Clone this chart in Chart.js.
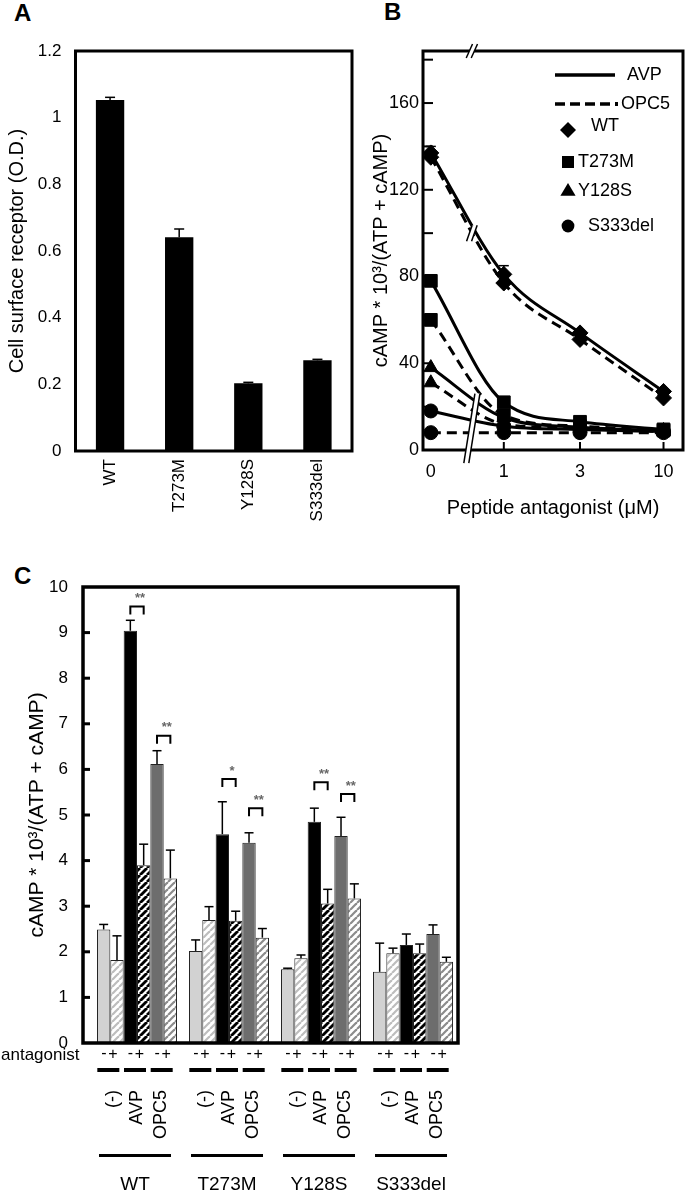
<!DOCTYPE html>
<html><head><meta charset="utf-8">
<script src="https://cdn.jsdelivr.net/npm/chart.js@4.4.0/dist/chart.umd.min.js"></script>
<style>
html,body{margin:0;padding:0;background:#fff;width:693px;height:1194px;overflow:hidden;position:relative;}
canvas{position:absolute;}
.lab{position:absolute;font:bold 24px "Liberation Sans",Arial,sans-serif;line-height:24px;color:#000;}
</style></head><body>
<div class="lab" style="left:14px;top:1px">A</div>
<div class="lab" style="left:384px;top:0px">B</div>
<div class="lab" style="left:14px;top:564px">C</div>
<canvas id="cA" width="360" height="540" style="left:0;top:0"></canvas>
<canvas id="cB" width="343" height="540" style="left:350px;top:0"></canvas>
<canvas id="cC" width="470" height="634" style="left:0;top:560px"></canvas>
<script>
// ================= DATA =================
// Panel A
const A_CATS = ['WT', 'T273M', 'Y128S', 'S333del'];
const A_VALUES = [1.053, 0.641, 0.203, 0.272];
const A_ERRS = [0.008, 0.025, 0.003, 0.003];
const A_TICKS = [0, 0.2, 0.4, 0.6, 0.8, 1, 1.2];

// Panel B
const B_CONC = [0, 1, 3, 10];
const B_XTICK_LABELS = ['0', '1', '3', '10'];
const B_YTICKS = [0, 40, 80, 120, 160];
const B_MUTANTS = ['WT', 'T273M', 'Y128S', 'S333del'];
const B_TREAT = ['AVP', 'OPC5'];
const B_WT_AVP = [137, 81, 54, 27];
const B_WT_OPC5 = [135, 77, 51, 24];
const B_T273M_AVP = [78, 22, 13, 9.5];
const B_T273M_OPC5 = [60, 16, 11, 9];
const B_Y128S_AVP = [38, 15, 10.5, 9];
const B_Y128S_OPC5 = [31, 12, 10, 8.5];
const B_S333DEL_AVP = [18, 11, 9.5, 8.5];
const B_S333DEL_OPC5 = [8, 8, 8, 8];
const B_WT_AVP_ERR = [3, 4, 1, 1];
const B_WT_OPC5_ERR = [2, 2, 1, 1];

// Panel C
const C_GROUPS = ['WT', 'T273M', 'Y128S', 'S333del'];
const C_TREAT_LABELS = ['(-)', 'AVP', 'OPC5'];
const C_NONE_MINUS = [2.49, 2.02, 1.62, 1.56];
const C_NONE_MINUS_ERR = [0.11, 0.24, 0.02, 0.63];
const C_NONE_PLUS = [1.82, 2.70, 1.86, 1.97];
const C_NONE_PLUS_ERR = [0.53, 0.29, 0.07, 0.11];
const C_AVP_MINUS = [9.04, 4.58, 4.85, 2.15];
const C_AVP_MINUS_ERR = [0.23, 0.71, 0.30, 0.24];
const C_AVP_PLUS = [3.90, 2.68, 3.06, 1.97];
const C_AVP_PLUS_ERR = [0.46, 0.21, 0.31, 0.20];
const C_OPC5_MINUS = [6.12, 4.39, 4.54, 2.39];
const C_OPC5_MINUS_ERR = [0.29, 0.22, 0.41, 0.20];
const C_OPC5_PLUS = [3.61, 2.31, 3.17, 1.78];
const C_OPC5_PLUS_ERR = [0.62, 0.20, 0.32, 0.10];
const C_YTICKS = [0, 1, 2, 3, 4, 5, 6, 7, 8, 9, 10];
const C_SIG_GROUP = [0, 0, 1, 1, 2, 2];
const C_SIG_PAIR = [1, 2, 1, 2, 1, 2];
const C_SIG_LEVEL = [9.57, 6.74, 5.79, 5.15, 5.72, 5.46];
const C_SIG_TEXT = ['**', '**', '*', '**', '**', '**'];

// ================= STYLE / LAYOUT =================
const FONT = '"Liberation Sans", Arial, Helvetica, sans-serif';
Chart.defaults.font.family = FONT;
Chart.defaults.color = '#000';
const B_ZERO_POS = -0.457;   // where "0" sits on the broken log axis
const B_BREAK_POS = -0.2;    // axis break location
const B_BREAK_WT_LEVEL = 100;
const B_BREAK_LOW = [-6, 26];
const bx = c => c === 0 ? B_ZERO_POS : Math.log10(c);

function line(ctx, x1, y1, x2, y2) { ctx.beginPath(); ctx.moveTo(x1, y1); ctx.lineTo(x2, y2); ctx.stroke(); }
function drawBox(chart, lw) {
  const a = chart.chartArea, ctx = chart.ctx;
  ctx.save(); ctx.strokeStyle = '#000'; ctx.lineWidth = lw;
  ctx.strokeRect(a.left, a.top, a.right - a.left, a.bottom - a.top);
  ctx.restore();
}
function drawErr(chart, cap, lw) {
  const ctx = chart.ctx, ys = chart.scales.y;
  chart.data.datasets.forEach((ds, di) => {
    if (!ds.errs) return;
    const meta = chart.getDatasetMeta(di);
    meta.data.forEach((el, i) => {
      const e = ds.errs[i]; if (!e) return;
      const d = ds.data[i]; const v = (typeof d === 'object') ? d.y : d;
      const y0 = ys.getPixelForValue(v), y1 = ys.getPixelForValue(v + e);
      ctx.save(); ctx.strokeStyle = '#000'; ctx.lineWidth = lw;
      line(ctx, el.x, y0, el.x, y1);
      line(ctx, el.x - cap, y1, el.x + cap, y1);
      ctx.restore();
    });
  });
}
function marker(ctx, style, x, y, r) {
  ctx.beginPath();
  if (style === 'rectRot') { ctx.moveTo(x, y - r); ctx.lineTo(x + r, y); ctx.lineTo(x, y + r); ctx.lineTo(x - r, y); ctx.closePath(); }
  else if (style === 'rect') { ctx.rect(x - r * 0.75, y - r * 0.75, r * 1.5, r * 1.5); }
  else if (style === 'triangle') { ctx.moveTo(x, y - r); ctx.lineTo(x + r * 0.95, y + r * 0.6); ctx.lineTo(x - r * 0.95, y + r * 0.6); ctx.closePath(); }
  else { ctx.arc(x, y, r * 0.8, 0, Math.PI * 2); }
  ctx.fill();
}
function stripes(fg, bg, size, lw) {
  const c = document.createElement('canvas'); c.width = size; c.height = size;
  const x = c.getContext('2d');
  x.fillStyle = bg; x.fillRect(0, 0, size, size);
  x.strokeStyle = fg; x.lineWidth = lw;
  for (const k of [-size, 0, size]) { x.beginPath(); x.moveTo(k, size); x.lineTo(k + size, 0); x.stroke(); }
  return x.createPattern(c, 'repeat');
}

// ================= PANEL A =================
new Chart(document.getElementById('cA'), {
  type: 'bar',
  data: { labels: A_CATS, datasets: [{ data: A_VALUES, errs: A_ERRS, backgroundColor: '#000', borderWidth: 0, barPercentage: 0.41, categoryPercentage: 1 }] },
  options: {
    responsive: false, animation: false,
    layout: { padding: { top: 51, right: 8, left: 0, bottom: 0 } },
    plugins: { legend: { display: false }, tooltip: { enabled: false } },
    scales: {
      x: {
        grid: { display: false, drawTicks: false }, border: { display: false },
        ticks: { minRotation: 90, maxRotation: 90, padding: 8, font: { size: 17 }, color: '#000' },
        afterFit: s => { s.height = 89; }
      },
      y: {
        min: 0, max: 1.2,
        afterBuildTicks: s => { s.ticks = A_TICKS.map(v => ({ value: v })); },
        grid: { display: false, drawTicks: false }, border: { display: false },
        ticks: { padding: 14, font: { size: 17 }, color: '#000', callback: v => String(+v.toFixed(1)) },
        title: { display: true, text: 'Cell surface receptor (O.D.)', font: { size: 20 }, color: '#000', padding: { top: 5 } },
        afterFit: s => { s.width = 75.5; }
      }
    }
  },
  plugins: [{ id: 'pa', afterDatasetsDraw(chart) { drawErr(chart, 5, 1.5); drawBox(chart, 3); } }]
});

// ================= PANEL B =================
const B_SERIES = [
  [B_WT_AVP, B_WT_OPC5], [B_T273M_AVP, B_T273M_OPC5], [B_Y128S_AVP, B_Y128S_OPC5], [B_S333DEL_AVP, B_S333DEL_OPC5]
];
const B_ERRS = [[B_WT_AVP_ERR, B_WT_OPC5_ERR], [null, null], [null, null], [null, null]];
const B_STYLES = ['rectRot', 'rect', 'triangle', 'circle'];
const B_RADII = [8, 9, 8, 7];
const bDatasets = [];
B_MUTANTS.forEach((m, mi) => {
  B_TREAT.forEach((t, ti) => {
    bDatasets.push({
      label: m + ' ' + t,
      data: B_CONC.map((c, i) => ({ x: bx(c), y: B_SERIES[mi][ti][i] })),
      errs: B_ERRS[mi][ti],
      borderColor: '#000', backgroundColor: '#000', borderWidth: 3,
      borderDash: ti === 1 ? [10, 6] : [],
      pointStyle: B_STYLES[mi], pointRadius: B_RADII[mi],
      pointBackgroundColor: '#000', pointBorderColor: '#000', pointBorderWidth: 1,
      cubicInterpolationMode: 'monotone', tension: 0.4, fill: false, clip: 12
    });
  });
});
new Chart(document.getElementById('cB'), {
  type: 'line',
  data: { datasets: bDatasets },
  options: {
    responsive: false, animation: false,
    layout: { padding: { top: 51, right: 3, left: 0, bottom: 0 } },
    plugins: { legend: { display: false }, tooltip: { enabled: false } },
    scales: {
      x: {
        type: 'linear', min: -0.506, max: 1.122,
        afterBuildTicks: s => { s.ticks = B_CONC.map(c => ({ value: bx(c) })); },
        grid: { display: false, drawTicks: false }, border: { display: false },
        ticks: { padding: 11, font: { size: 18 }, color: '#000', callback: (v, i) => B_XTICK_LABELS[i] },
        title: { display: true, text: 'Peptide antagonist (\u03bcM)', font: { size: 20 }, color: '#000', padding: { bottom: 20 } },
        afterFit: s => { s.height = 90; }
      },
      y: {
        min: 0, max: 184,
        afterBuildTicks: s => { s.ticks = B_YTICKS.map(v => ({ value: v })); },
        grid: { display: false, drawTicks: false }, border: { display: false },
        ticks: { padding: 4, font: { size: 18 }, color: '#000' },
        title: { display: true, text: 'cAMP * 10\u00b3/(ATP + cAMP)', font: { size: 20 }, color: '#000', padding: { top: 19 } },
        afterFit: s => { s.width = 73; }
      }
    }
  },
  plugins: [{
    id: 'pb',
    afterDatasetsDraw(chart) {
      const ctx = chart.ctx, a = chart.chartArea, xs = chart.scales.x, ys = chart.scales.y;
      drawErr(chart, 5, 1.5);
      drawBox(chart, 3);
      ctx.save(); ctx.strokeStyle = '#000'; ctx.lineWidth = 2;
      for (let v = 20; v <= 180; v += 20) { const y = ys.getPixelForValue(v); line(ctx, a.left, y, a.left + 10, y); }
      B_CONC.slice(1).forEach(c => { const x = xs.getPixelForValue(bx(c)); line(ctx, x, a.bottom, x, a.bottom - 8); });
      const bxp = xs.getPixelForValue(B_BREAK_POS);
      const g = 2.5;
      const slash = (yc, h, s) => {
        const xa = bxp + h * s, xb = bxp - h * s;
        ctx.fillStyle = '#fff';
        ctx.beginPath();
        ctx.moveTo(xa - g, yc - h); ctx.lineTo(xa + g, yc - h); ctx.lineTo(xb + g, yc + h); ctx.lineTo(xb - g, yc + h); ctx.closePath(); ctx.fill();
        ctx.strokeStyle = '#000'; ctx.lineWidth = 1.5;
        line(ctx, xa - g, yc - h, xb - g, yc + h);
        line(ctx, xa + g, yc - h, xb + g, yc + h);
      };
      slash(a.top, 7, 0.45);
      slash(ys.getPixelForValue(B_BREAK_WT_LEVEL), 8, 0.35);
      const yl1 = ys.getPixelForValue(B_BREAK_LOW[1]), yl0 = ys.getPixelForValue(B_BREAK_LOW[0]);
      slash((yl0 + yl1) / 2, (yl0 - yl1) / 2, 0.16);
      ctx.fillStyle = '#000'; ctx.strokeStyle = '#000';
      ctx.font = '18px ' + FONT; ctx.textBaseline = 'middle'; ctx.textAlign = 'left';
      ctx.lineWidth = 3.5; ctx.setLineDash([]);
      line(ctx, 205, 75, 265, 75);
      ctx.fillText(B_TREAT[0], 277, 75);
      ctx.setLineDash([10, 5]);
      line(ctx, 205, 104, 262, 104);
      ctx.setLineDash([]);
      ctx.fillRect(265, 102, 3, 4);
      ctx.fillText(B_TREAT[1], 271, 104);
      const ly = [130, 162, 191, 226], lt = [241, 228, 228, 238];
      B_MUTANTS.forEach((m, i) => {
        marker(ctx, B_STYLES[i], 218, ly[i], 8);
        ctx.fillText(m, lt[i], ly[i] - (i === 0 ? 4 : 0));
      });
      ctx.restore();
    }
  }]
});

// ================= PANEL C =================
const C_VALUES = [C_NONE_MINUS, C_NONE_PLUS, C_AVP_MINUS, C_AVP_PLUS, C_OPC5_MINUS, C_OPC5_PLUS];
const C_ERRS = [C_NONE_MINUS_ERR, C_NONE_PLUS_ERR, C_AVP_MINUS_ERR, C_AVP_PLUS_ERR, C_OPC5_MINUS_ERR, C_OPC5_PLUS_ERR];
const C_FILLS = [
  '#d2d2d2',
  stripes('#bdbdbd', '#ffffff', 7, 2.2),
  '#000000',
  stripes('#000000', '#ffffff', 7, 2.8),
  '#6d6d6d',
  stripes('#8c8c8c', '#ffffff', 7, 2.2)
];
const C_NAMES = ['(-) -', '(-) +', 'AVP -', 'AVP +', 'OPC5 -', 'OPC5 +'];
new Chart(document.getElementById('cC'), {
  type: 'bar',
  data: {
    datasets: C_VALUES.map((vals, k) => ({
      label: C_NAMES[k],
      data: C_GROUPS.map((g, i) => ({ x: i, y: vals[i] })),
      errs: C_ERRS[k],
      backgroundColor: C_FILLS[k], borderColor: '#222', borderWidth: 1,
      barPercentage: 1, categoryPercentage: 0.87
    }))
  },
  options: {
    responsive: false, animation: false,
    layout: { padding: { top: 27, right: 12, left: 0, bottom: 151 } },
    plugins: { legend: { display: false }, tooltip: { enabled: false } },
    scales: {
      x: {
        type: 'linear', min: -0.587, max: 3.489, offset: false, display: true,
        afterBuildTicks: s => { s.ticks = C_GROUPS.map((g, i) => ({ value: i })); },
        grid: { display: false, drawTicks: false, offset: false }, border: { display: false },
        ticks: { display: false },
        afterFit: s => { s.height = 0; }
      },
      y: {
        min: 0, max: 10,
        afterBuildTicks: s => { s.ticks = C_YTICKS.map(v => ({ value: v })); },
        grid: { display: false, drawTicks: false }, border: { display: false },
        ticks: { padding: 15, font: { size: 17 }, color: '#000' },
        title: { display: true, text: 'cAMP * 10\u00b3/(ATP + cAMP)', font: { size: 21 }, color: '#000', padding: { top: 25 } },
        afterFit: s => { s.width = 83; }
      }
    }
  },
  plugins: [{
    id: 'pc',
    afterDatasetsDraw(chart) {
      const ctx = chart.ctx, a = chart.chartArea, ys = chart.scales.y;
      drawErr(chart, 4.5, 1.5);
      drawBox(chart, 3.5);
      ctx.save(); ctx.strokeStyle = '#000'; ctx.lineWidth = 3;
      for (let v = 1; v <= 9; v++) { const y = ys.getPixelForValue(v); line(ctx, a.left, y, a.left + 7, y); }
      ctx.lineWidth = 2;
      C_SIG_LEVEL.forEach((lv, k) => {
        const g = C_SIG_GROUP[k], p = C_SIG_PAIR[k];
        const x1 = chart.getDatasetMeta(2 * p).data[g].x, x2 = chart.getDatasetMeta(2 * p + 1).data[g].x;
        const y = ys.getPixelForValue(lv);
        ctx.strokeStyle = '#000';
        ctx.beginPath(); ctx.moveTo(x1, y + 8); ctx.lineTo(x1, y); ctx.lineTo(x2, y); ctx.lineTo(x2, y + 8); ctx.stroke();
        ctx.fillStyle = '#666'; ctx.font = 'bold 13px ' + FONT; ctx.textAlign = 'center'; ctx.textBaseline = 'middle';
        ctx.fillText(C_SIG_TEXT[k], (x1 + x2) / 2 + 3, y - 8);
      });
      ctx.restore();
    },
    afterDraw(chart) {
      const ctx = chart.ctx;
      ctx.save(); ctx.fillStyle = '#000';
      ctx.font = '17px ' + FONT; ctx.textBaseline = 'middle'; ctx.textAlign = 'left';
      ctx.fillText('antagonist', 1, 495);
      const labOff = [2.5, 0.5, -3];
      C_GROUPS.forEach((gname, g) => {
        for (let p = 0; p < 3; p++) {
          const x1 = chart.getDatasetMeta(2 * p).data[g].x, x2 = chart.getDatasetMeta(2 * p + 1).data[g].x;
          const pc = (x1 + x2) / 2;
          ctx.font = '16px ' + FONT; ctx.textAlign = 'center'; ctx.textBaseline = 'middle';
          ctx.fillText('-', pc - 6.5, 494);
          ctx.fillText('+', pc + 2.5, 495);
          ctx.fillRect(pc - 13, 508, 22, 4);
          ctx.save();
          ctx.translate(pc + labOff[p], 530);
          ctx.rotate(-Math.PI / 2);
          ctx.font = '18px ' + FONT; ctx.textAlign = 'right'; ctx.textBaseline = 'middle';
          ctx.fillText(C_TREAT_LABELS[p], 0, 0);
          ctx.restore();
        }
        const gc = (chart.getDatasetMeta(0).data[g].x + chart.getDatasetMeta(5).data[g].x) / 2 - 2;
        ctx.fillRect(gc - 36, 594, 72, 3);
        ctx.font = '19px ' + FONT; ctx.textAlign = 'center'; ctx.textBaseline = 'middle';
        ctx.fillText(gname, gc, 625);
      });
      ctx.restore();
    }
  }]
});
</script>
</body></html>
